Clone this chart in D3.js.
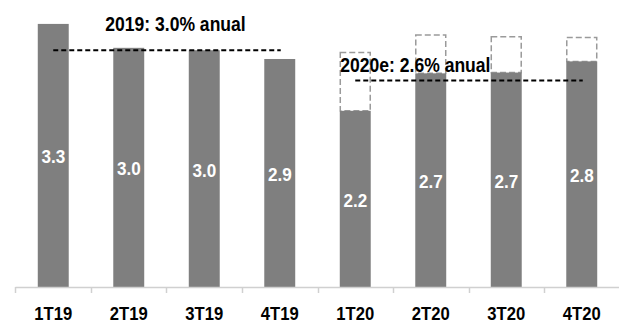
<!DOCTYPE html>
<html><head><meta charset="utf-8">
<script src="https://cdn.jsdelivr.net/npm/d3@7"></script>
<style>
html,body{margin:0;padding:0;background:#fff;}
svg{display:block;}
text{font-family:"Liberation Sans Narrow","Arial Narrow","Liberation Sans",Arial,sans-serif;font-weight:bold;}
</style></head>
<body>
<svg id="c" width="619" height="324"></svg>
<script>
const categories = ["1T19","2T19","3T19","4T19","1T20","2T20","3T20","4T20"];
const values = [3.3, 3.0, 2.97, 2.86, 2.21, 2.68, 2.69, 2.83];
const priorForecast = [null, null, null, null, 2.94, 3.16, 3.14, 3.13];
const annualAvg = [
  {label:"2019: 3.0% anual", value:2.97, from:"1T19", to:"4T19"},
  {label:"2020e: 2.6% anual", value:2.59, from:"1T20", to:"4T20"}
];

const svg = d3.select("#c");
const W = 619, H = 324;
const base = 287;
const SX = 0.9; // horizontal condensation to imitate a narrow face
const x = d3.scaleBand().domain(categories).range([15.5, 619.5]).paddingInner(0.59).paddingOuter(0.295);
const y = d3.scaleLinear().domain([0, 3.6]).range([base, 0]);
const fmt = d3.format(".1f");

function narrowText(sel, fx, fy) {
  return sel.attr("transform", (d,i)=>`translate(${fx(d,i)},${fy(d,i)}) scale(${SX},1)`);
}

// dashed forecast boxes
svg.append("g").selectAll("rect").data(categories.map((c,i)=>({c,v:values[i],p:priorForecast[i]})).filter(d=>d.p!=null))
  .join("rect")
  .attr("x", d=>x(d.c)+0.5).attr("width", x.bandwidth()-1)
  .attr("y", d=>y(d.p)).attr("height", d=>y(d.v)-y(d.p))
  .attr("fill","none").attr("stroke","#9a9a9a").attr("stroke-width",1.5).attr("stroke-dasharray","6,3");

// bars
svg.append("g").selectAll("rect").data(categories.map((c,i)=>({c,v:values[i]})))
  .join("rect")
  .attr("x", d=>x(d.c)).attr("width", x.bandwidth())
  .attr("y", d=>y(d.v)).attr("height", d=>base-y(d.v))
  .attr("fill","#7f7f7f");

// value labels
narrowText(svg.append("g").selectAll("text").data(categories.map((c,i)=>({c,v:values[i]})))
  .join("text"), d=>x(d.c)+x.bandwidth()/2, d=>(y(d.v)+base)/2+8)
  .attr("text-anchor","middle")
  .attr("fill","#fff").attr("font-size",19)
  .text(d=>fmt(d.v));

// axis
const axis = svg.append("g");
axis.append("line").attr("x1",15.5).attr("x2",W).attr("y1",base+0.5).attr("y2",base+0.5)
  .attr("stroke","#d0d0d0").attr("stroke-width",1.5);
const step = x.step();
const bounds = categories.map(c=>x(c)-(step-x.bandwidth())/2).concat([x(categories[categories.length-1])+x.bandwidth()+(step-x.bandwidth())/2]);
axis.selectAll("line.t").data(bounds).join("line").attr("class","t")
  .attr("x1",d=>Math.round(d)+0.5).attr("x2",d=>Math.round(d)+0.5).attr("y1",base).attr("y2",base+6)
  .attr("stroke","#d0d0d0").attr("stroke-width",1.5);
narrowText(axis.selectAll("text").data(categories).join("text"),
  d=>x(d)+x.bandwidth()/2, ()=>320)
  .attr("text-anchor","middle").attr("fill","#000").attr("font-size",18.5)
  .text(d=>d);

// annual average lines
svg.append("g").selectAll("line").data(annualAvg).join("line")
  .attr("x1", d=>x(d.from)+x.bandwidth()/2).attr("x2", d=>x(d.to)+x.bandwidth()/2+1)
  .attr("y1", d=>y(d.value)).attr("y2", d=>y(d.value))
  .attr("stroke","#000").attr("stroke-width",1.8).attr("stroke-dasharray","5,3");

const labelPos = [{dx:52, y:31},{dx:-15, y:72}];
narrowText(svg.append("g").selectAll("text").data(annualAvg).join("text"),
  (d,i)=>x(d.from)+x.bandwidth()/2+labelPos[i].dx, (d,i)=>labelPos[i].y)
  .attr("fill","#000").attr("font-size",19.5)
  .text(d=>d.label);
</script>
</body></html>
